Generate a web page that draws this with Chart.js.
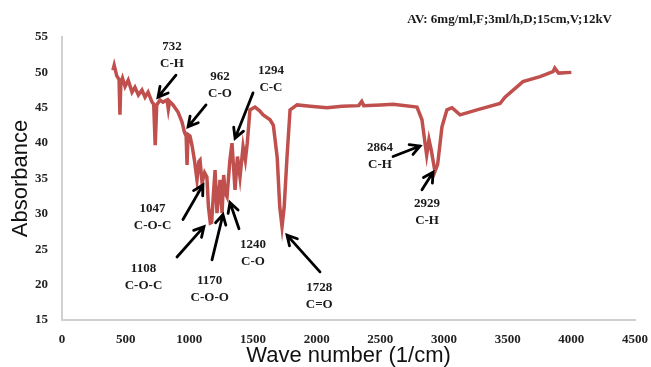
<!DOCTYPE html>
<html>
<head>
<meta charset="utf-8">
<script src="https://cdn.jsdelivr.net/npm/chart.js@4"></script>
<style>
  html, body { margin: 0; padding: 0; background: #fff; }
  #wrap { width: 651px; height: 367px; position: relative; }
</style>
</head>
<body>
<div id="wrap"><canvas id="ftirChart"></canvas></div>
<script>
// spectrum
const wavenumbers = [
    400, 410, 430, 448, 455, 462, 475, 495, 520, 550, 573, 600, 628, 652, 676, 707, 720, 732, 744,
    770, 793, 825, 835, 845, 872, 911, 942, 962, 975, 982, 990, 1005, 1021, 1040, 1060, 1075, 1084,
    1100, 1120, 1138, 1150, 1165, 1175, 1190, 1202, 1217, 1241, 1257, 1270, 1280, 1296, 1318, 1335,
    1359, 1378, 1398, 1422, 1440, 1455, 1476, 1516, 1550, 1580, 1634, 1660, 1690, 1710, 1728, 1745,
    1767, 1791, 1846, 1950, 2081, 2200, 2330, 2354, 2370, 2500, 2600, 2788, 2827, 2851, 2864, 2882,
    2900, 2929, 2950, 2984, 3023, 3063, 3126, 3259, 3440, 3479, 3620, 3754, 3856, 3870, 3900, 4000
];
const absorbance = [
    50.3, 51.0, 49.5, 49.0, 44.0, 48.5, 49.2, 48.0, 48.9, 47.2, 47.9, 46.8, 47.5, 46.5, 47.2, 45.8, 45.5, 39.7, 45.4,
    46.1, 45.8, 46.1, 44.8, 45.9, 45.4, 44.4, 43.0, 41.5, 41.0, 36.9, 41.2, 41.0, 39.7, 37.6, 34.8, 37.4, 37.6,
    34.4, 35.8, 35.2, 31.0, 28.7, 28.8, 33.0, 36.2, 30.1, 34.8, 30.1, 35.5, 33.0, 32.4, 37.5, 40.0,
    33.4, 38.1, 35.2, 39.5, 37.6, 40.0, 44.7, 45.1, 44.6, 44.0, 43.3, 42.5, 38.0, 31.0, 28.2, 31.0,
    38.0, 44.7, 45.4, 45.2, 45.0, 45.2, 45.3, 45.9, 45.3, 45.4, 45.5, 45.1, 43.3, 40.0, 38.3, 40.5,
    39.0, 36.0, 37.0, 42.3, 44.7, 45.0, 44.0, 44.7, 45.6, 46.5, 48.7, 49.4, 50.1, 50.6, 49.9, 50.0
];

const peakLabels = ['732', '962', '1294', '1047', '1108', '1170', '1240', '1728', '2864', '2929'];
const bondLabels = ['C-H', 'C-O', 'C-C', 'C-O-C', 'C-O-C', 'C-O-O', 'C-O', 'C=O', 'C-H', 'C-H'];

// where each label and arrow sits, in axis units: [textX, textY, tailX, tailY, tipX, tipY]
const labelPlaces = [
    [864, 53.6, 895, 49.6, 754, 46.5],
    [1241, 49.4, 1131, 45.4, 990, 42.3],
    [1641, 50.2, 1500, 47.1, 1359, 40.7],
    [711, 30.7, 950, 29.2, 1107, 34.1],
    [640, 22.3, 903, 23.9, 1115, 28.2],
    [1160, 20.6, 1178, 23.5, 1264, 29.9],
    [1500, 25.7, 1390, 27.9, 1319, 31.6],
    [2020, 19.6, 2026, 21.8, 1767, 27.0],
    [2497, 39.4, 2600, 38.1, 2812, 39.6],
    [2867, 31.5, 2827, 33.4, 2914, 35.9]
];

const sampleNote = 'AV: 6mg/ml,F;3ml/h,D;15cm,V;12kV';

const serifBold = 'bold 13px "Liberation Serif", "Times New Roman", serif';

const drawArrow = (ctx, x1, y1, x2, y2) => {
    const ang = Math.atan2(y2 - y1, x2 - x1);
    const head = 11;
    ctx.beginPath();
    ctx.moveTo(x1, y1);
    ctx.lineTo(x2, y2);
    ctx.moveTo(x2 - head * Math.cos(ang - 0.5), y2 - head * Math.sin(ang - 0.5));
    ctx.lineTo(x2, y2);
    ctx.lineTo(x2 - head * Math.cos(ang + 0.5), y2 - head * Math.sin(ang + 0.5));
    ctx.stroke();
};

const peakNotes = {
    id: 'peakNotes',
    afterDatasetsDraw(chart) {
        const ctx = chart.ctx;
        const xs = chart.scales.x;
        const ys = chart.scales.y;
        ctx.save();
        ctx.strokeStyle = '#000';
        ctx.lineWidth = 2.8;
        ctx.lineCap = 'round';
        ctx.lineJoin = 'miter';
        ctx.fillStyle = '#1a1a1a';
        ctx.font = serifBold;
        ctx.textAlign = 'center';
        ctx.textBaseline = 'middle';
        labelPlaces.forEach((p, i) => {
            const tx = xs.getPixelForValue(p[0]);
            const ty = ys.getPixelForValue(p[1]);
            ctx.fillText(peakLabels[i], tx, ty);
            ctx.fillText(bondLabels[i], tx, ty + 17);
            drawArrow(ctx,
                xs.getPixelForValue(p[2]), ys.getPixelForValue(p[3]),
                xs.getPixelForValue(p[4]), ys.getPixelForValue(p[5]));
        });
        ctx.textAlign = 'right';
        ctx.fillText(sampleNote, 612, 20);
        ctx.restore();
    }
};

const ctx = document.getElementById('ftirChart').getContext('2d');
new Chart(ctx, {
    type: 'line',
    data: {
        datasets: [{
            label: 'AV',
            data: wavenumbers.map((w, i) => ({ x: w, y: absorbance[i] })),
            borderColor: '#c0504d',
            borderWidth: 3.5,
            pointRadius: 0,
            tension: 0,
            fill: false
        }]
    },
    options: {
        responsive: true,
        maintainAspectRatio: false,
        animation: false,
        layout: { padding: { top: 37, right: 16, left: 8, bottom: 0 } },
        plugins: {
            legend: { display: false },
            tooltip: { enabled: false }
        },
        scales: {
            x: {
                type: 'linear',
                min: 0,
                max: 4500,
                afterFit: (scale) => {
                    scale.height = 47;
                    scale.paddingRight = 0;
                    scale.paddingLeft = 0;
                },
                grid: { display: false, drawTicks: false },
                border: { color: '#d0d0d0', width: 2 },
                ticks: {
                    stepSize: 500,
                    padding: 12,
                    maxRotation: 0,
                    color: '#222',
                    callback: (v) => String(v),
                    font: { family: '"Liberation Serif", "Times New Roman", serif', size: 13, weight: 'bold' }
                },
                title: {
                    display: true,
                    text: 'Wave number (1/cm)',
                    color: '#111',
                    padding: { top: 0, bottom: -2 },
                    font: { family: '"Liberation Sans", Arial, sans-serif', size: 22 }
                }
            },
            y: {
                min: 15,
                max: 55,
                afterFit: (scale) => {
                    scale.width = 54;
                    scale.paddingTop = 0;
                    scale.paddingBottom = 0;
                },
                grid: { display: false, drawTicks: false },
                border: { color: '#d0d0d0', width: 2 },
                ticks: {
                    stepSize: 5,
                    padding: 14,
                    color: '#222',
                    font: { family: '"Liberation Serif", "Times New Roman", serif', size: 13, weight: 'bold' }
                },
                title: {
                    display: true,
                    text: 'Absorbance',
                    color: '#111',
                    padding: { top: 0, bottom: 0 },
                    font: { family: '"Liberation Sans", Arial, sans-serif', size: 22 }
                }
            }
        }
    },
    plugins: [peakNotes]
});
</script>
</body>
</html>
